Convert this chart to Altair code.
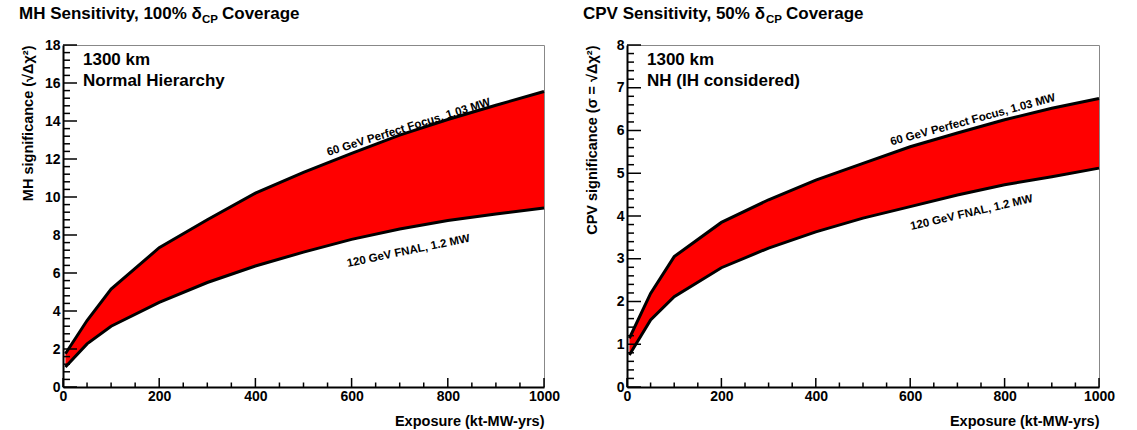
import altair as alt
import pandas as pd

FONT = "Liberation Sans"

# ---------------- data ----------------
exposure = [5, 50, 100, 200, 300, 400, 500, 600, 700, 800, 900, 1000]
mh_pf = [1.75, 3.5, 5.15, 7.33, 8.8, 10.2, 11.3, 12.3, 13.26, 14.08, 14.83, 15.55]
mh_fnal = [1.05, 2.27, 3.2, 4.45, 5.5, 6.37, 7.1, 7.77, 8.32, 8.76, 9.1, 9.42]
cpv_pf = [1.14, 2.19, 3.05, 3.85, 4.38, 4.84, 5.23, 5.62, 5.94, 6.25, 6.52, 6.75]
cpv_fnal = [0.75, 1.57, 2.11, 2.79, 3.25, 3.63, 3.95, 4.22, 4.49, 4.73, 4.92, 5.12]

x_major = [0, 200, 400, 600, 800, 1000]
x_minor = [50, 100, 150, 250, 300, 350, 450, 500, 550, 650, 700, 750, 850, 900, 950]
mh_y_major = [0, 2, 4, 6, 8, 10, 12, 14, 16, 18]
cpv_y_major = [0, 1, 2, 3, 4, 5, 6, 7, 8]

label_pf = "60 GeV Perfect Focus, 1.03 MW"
label_fnal = "120 GeV FNAL, 1.2 MW"


def minor_ticks(major, step):
    out = []
    for i in range(len(major) - 1):
        a, b = major[i], major[i + 1]
        n = int(round((b - a) / step))
        out += [round(a + k * step, 3) for k in range(1, n)]
    return out


def panel(width, height, ymax, upper, lower, ymajor, yminor_step, ytitle,
          title_main, title_sub_x, title_rest_x, inner1, inner2, lab_pos):
    xs = alt.Scale(domain=[0, 1000], nice=False, zero=False)
    ys = alt.Scale(domain=[0, ymax], nice=False, zero=False)
    xax = alt.Axis(values=x_major, title="Exposure (kt-MW-yrs)", titleAnchor="end",
                   titleAlign="right", titleX=width, titleY=38, titleBaseline="alphabetic",
                   labelPadding=2, labelFlush=False, labelOverlap=False, format="d",
                   grid=False, ticks=False)
    yax = alt.Axis(values=ymajor, title=ytitle, titleAngle=270, titleAlign="right",
                   titleBaseline="middle", titleX=-35, titleY=0, labelPadding=3,
                   labelOverlap=False, labelFlush=False, format="d",
                   grid=False, ticks=False)

    def X(f):
        return alt.X(f, scale=xs, axis=xax)

    def Y(f):
        return alt.Y(f, scale=ys, axis=yax)

    df = pd.DataFrame({"x": exposure, "up": upper, "lo": lower})
    dummy = pd.DataFrame({"a": [0]})

    area = alt.Chart(df).mark_area(color="#ff0000", opacity=1).encode(
        x=X("x:Q"), y=Y("lo:Q"), y2="up:Q")
    line_up = alt.Chart(df).mark_line(color="black", strokeWidth=3).encode(
        x=X("x:Q"), y=Y("up:Q"))
    line_lo = alt.Chart(df).mark_line(color="black", strokeWidth=3).encode(
        x=X("x:Q"), y=Y("lo:Q"))

    ymin = minor_ticks(ymajor, yminor_step)
    yt_maj = alt.Chart(pd.DataFrame({"v": ymajor})).mark_rule(color="black", strokeWidth=1.5).encode(
        y=Y("v:Q"), x=alt.value(0), x2=alt.value(14))
    yt_min = alt.Chart(pd.DataFrame({"v": ymin})).mark_rule(color="black", strokeWidth=1.5).encode(
        y=Y("v:Q"), x=alt.value(0), x2=alt.value(7))
    xt_maj = alt.Chart(pd.DataFrame({"v": x_major})).mark_rule(color="black", strokeWidth=1.5).encode(
        x=X("v:Q"), y=alt.value(height), y2=alt.value(height - 9))
    xt_min = alt.Chart(pd.DataFrame({"v": x_minor})).mark_rule(color="black", strokeWidth=1.5).encode(
        x=X("v:Q"), y=alt.value(height), y2=alt.value(height - 4.5))

    def txt(text, size, x, y):
        return alt.Chart(dummy).mark_text(text=text, font=FONT, fontSize=size, fontWeight="bold",
                                          align="left", baseline="alphabetic",
                                          color="black").encode(x=alt.value(x), y=alt.value(y))

    t1 = txt(title_main, 17, -44, -26)
    t2 = txt("CP", 11.5, title_sub_x, -22)
    t3 = txt("Coverage", 17, title_rest_x, -26)
    i1 = txt(inner1, 17, 20, 20)
    i2 = txt(inner2, 17, 20, 41)

    labs = []
    for t, lx, ly, ang in lab_pos:
        ldf = pd.DataFrame({"x": [lx], "y": [ly], "t": [t]})
        labs.append(alt.Chart(ldf).mark_text(font=FONT, fontSize=11.5, fontWeight="bold",
                                             angle=ang, align="center", baseline="middle",
                                             color="black").encode(
            x=X("x:Q"), y=Y("y:Q"), text="t:N"))

    return alt.layer(area, line_up, line_lo, yt_maj, yt_min, xt_maj, xt_min,
                     t1, t2, t3, i1, i2, *labs).properties(width=width, height=height)


left = panel(481, 342, 18, mh_pf, mh_fnal, mh_y_major, 0.4,
             "MH significance (√Δχ²)",
             "MH Sensitivity, 100% δ", 139, 159,
             "1300 km", "Normal Hierarchy",
             [(label_pf, 719, 13.65, 342.7), (label_fnal, 718, 7.14, 348.3)])
right = panel(472, 342, 8, cpv_pf, cpv_fnal, cpv_y_major, 0.2,
              "CPV significance (σ = √Δχ²)",
              "CPV Sensitivity, 50% δ", 139, 159,
              "1300 km", "NH (IH considered)",
              [(label_pf, 733, 6.24, 344.8), (label_fnal, 730, 4.07, 347.0)])

chart = alt.hconcat(left, right, spacing=83, bounds="flush").properties(
    padding={"left": 18, "top": 4, "right": 5, "bottom": 5},
    background="white",
).configure_view(stroke="#888888", strokeWidth=1).configure_axis(
    labelFont=FONT, labelFontSize=14, labelFontWeight="bold", labelColor="black",
    titleFont=FONT, titleFontSize=14.5, titleFontWeight="bold", titleColor="black",
    ticks=False, grid=False, domainColor="black", domainWidth=2
)

chart.save("out.html", embed_options={"renderer": "svg", "actions": False})
